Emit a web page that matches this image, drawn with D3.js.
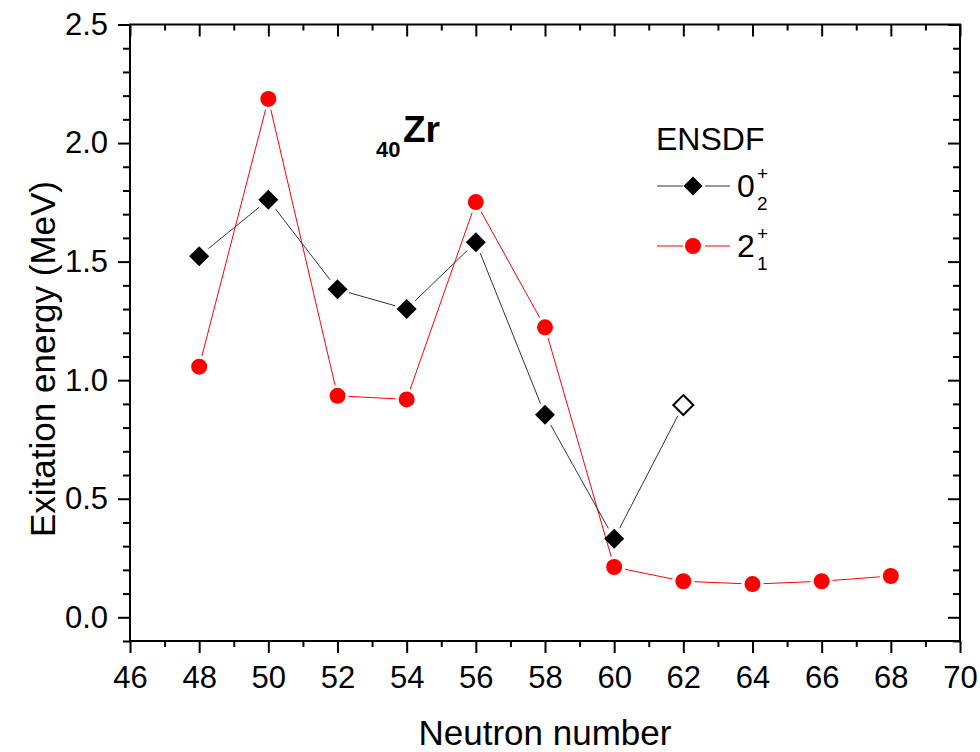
<!DOCTYPE html>
<html>
<head>
<meta charset="utf-8">
<script src="https://cdn.jsdelivr.net/npm/d3@7"></script>
<style>
  body { margin: 0; background: #fff; }
  svg { display: block; font-family: "Liberation Sans", Arial, sans-serif; }
</style>
</head>
<body>
<div id="chart"></div>
<script>
// neutron numbers and ENSDF energies (MeV)
const n02 = [48, 50, 52, 54, 56, 58, 60, 62];
const e02 = [1.523, 1.761, 1.383, 1.300, 1.582, 0.854, 0.331, 0.895];
const open02 = [false, false, false, false, false, false, false, true]; // 62 is tentative
const n21 = [48, 50, 52, 54, 56, 58, 60, 62, 64, 66, 68];
const e21 = [1.057, 2.186, 0.934, 0.919, 1.751, 1.223, 0.212, 0.152, 0.140, 0.152, 0.174];
const xMajor = [46, 48, 50, 52, 54, 56, 58, 60, 62, 64, 66, 68, 70];
const xMinor = [47, 49, 51, 53, 55, 57, 59, 61, 63, 65, 67, 69];
const yMajor = [0.0, 0.5, 1.0, 1.5, 2.0, 2.5];
const yMinor = [-0.1, 0.1, 0.2, 0.3, 0.4, 0.6, 0.7, 0.8, 0.9, 1.1, 1.2, 1.3, 1.4,
  1.6, 1.7, 1.8, 1.9, 2.1, 2.2, 2.3, 2.4];

const W = 980, H = 752;
const plotL = 130, plotR = 960, plotT = 24.5, plotB = 641;

const svg = d3.select("#chart").append("svg")
  .attr("width", W).attr("height", H);

const x = d3.scaleLinear().domain([46, 70]).range([plotL, plotR]);
const y = d3.scaleLinear().domain([-0.1, 2.5]).range([plotB, plotT]);

// axes: outer ticks on left/bottom, inner ticks on top/right
function styleAxis(g) {
  g.select(".domain").remove();
  g.selectAll(".tick line").attr("stroke", "#000").attr("stroke-width", 2);
  g.attr("font-family", null).attr("font-size", 31);
  g.selectAll(".tick text").attr("fill", "#000");
}
svg.append("g").attr("transform", `translate(0,${plotB})`)
  .call(d3.axisBottom(x).tickValues(xMajor).tickFormat(d3.format("d")).tickSize(12).tickPadding(13))
  .call(styleAxis);
svg.append("g").attr("transform", `translate(0,${plotB})`)
  .call(d3.axisBottom(x).tickValues(xMinor).tickFormat("").tickSize(6))
  .call(styleAxis);
svg.append("g").attr("transform", `translate(0,${plotT})`)
  .call(d3.axisTop(x).tickValues(xMajor).tickFormat("").tickSize(-12))
  .call(styleAxis);
svg.append("g").attr("transform", `translate(0,${plotT})`)
  .call(d3.axisTop(x).tickValues(xMinor).tickFormat("").tickSize(-6))
  .call(styleAxis);
svg.append("g").attr("transform", `translate(${plotL},0)`)
  .call(d3.axisLeft(y).tickValues(yMajor).tickFormat(d3.format(".1f")).tickSize(12).tickPadding(10))
  .call(styleAxis);
svg.append("g").attr("transform", `translate(${plotL},0)`)
  .call(d3.axisLeft(y).tickValues(yMinor).tickFormat("").tickSize(7))
  .call(styleAxis);
svg.append("g").attr("transform", `translate(${plotR},0)`)
  .call(d3.axisRight(y).tickValues(yMajor).tickFormat("").tickSize(-12))
  .call(styleAxis);
svg.append("g").attr("transform", `translate(${plotR},0)`)
  .call(d3.axisRight(y).tickValues(yMinor).tickFormat("").tickSize(-7))
  .call(styleAxis);

// frame
svg.append("rect")
  .attr("x", plotL).attr("y", plotT)
  .attr("width", plotR - plotL).attr("height", plotB - plotT)
  .attr("fill", "none").attr("stroke", "#000").attr("stroke-width", 2);

// axis titles
svg.append("text")
  .attr("x", (plotL + plotR) / 2).attr("y", 745)
  .attr("text-anchor", "middle").attr("font-size", 35)
  .text("Neutron number");
svg.append("text")
  .attr("transform", "translate(55,359) rotate(-90)")
  .attr("text-anchor", "middle").attr("font-size", 35)
  .text("Exitation energy (MeV)");

const diamond = "M0,-10L10,0L0,10L-10,0Z";

// connecting lines stop short of the markers (Origin style)
function drawSegments(xs, ys, color, gap) {
  for (let i = 0; i < xs.length - 1; i++) {
    const x0 = x(xs[i]), y0 = y(ys[i]), x1 = x(xs[i + 1]), y1 = y(ys[i + 1]);
    const len = Math.hypot(x1 - x0, y1 - y0);
    if (len <= 2 * gap) continue;
    const ux = (x1 - x0) / len, uy = (y1 - y0) / len;
    svg.append("line")
      .attr("x1", x0 + ux * gap).attr("y1", y0 + uy * gap)
      .attr("x2", x1 - ux * gap).attr("y2", y1 - uy * gap)
      .attr("stroke", color).attr("stroke-width", 1);
  }
}
drawSegments(n21, e21, "#ff0000", 11);
drawSegments(n02, e02, "#333", 12);

// red circles
svg.append("g").selectAll("circle")
  .data(n21.map((n, i) => [n, e21[i]]))
  .join("circle")
  .attr("cx", d => x(d[0])).attr("cy", d => y(d[1]))
  .attr("r", 8).attr("fill", "#ff0000");

// black diamonds
svg.append("g").selectAll("path")
  .data(n02.map((n, i) => [n, e02[i], open02[i]]))
  .join("path")
  .attr("d", diamond)
  .attr("transform", d => `translate(${x(d[0])},${y(d[1])})`)
  .attr("fill", d => d[2] ? "#fff" : "#000")
  .attr("stroke", "#000")
  .attr("stroke-width", d => d[2] ? 2 : 0);

// 40Zr label
const zr = svg.append("text").attr("font-weight", "bold");
zr.append("tspan").attr("x", 376).attr("y", 157).attr("font-size", 22).text("40");
zr.append("tspan").attr("x", 403).attr("y", 142).attr("font-size", 37).text("Zr");

// legend
const lg = svg.append("g");
lg.append("text").attr("x", 656).attr("y", 150).attr("font-size", 32).text("ENSDF");

const rows = [
  { y: 186, color: "#333", base: "0", sub: "2" },
  { y: 246, color: "#ff0000", base: "2", sub: "1" }
];
rows.forEach((r, i) => {
  lg.append("line").attr("x1", 657).attr("x2", 683).attr("y1", r.y).attr("y2", r.y)
    .attr("stroke", r.color).attr("stroke-width", 1);
  lg.append("line").attr("x1", 705).attr("x2", 730).attr("y1", r.y).attr("y2", r.y)
    .attr("stroke", r.color).attr("stroke-width", 1);
  if (i === 0) {
    lg.append("path").attr("d", diamond)
      .attr("transform", `translate(693,${r.y}) scale(0.95)`).attr("fill", "#000");
  } else {
    lg.append("circle").attr("cx", 693).attr("cy", r.y).attr("r", 8).attr("fill", "#ff0000");
  }
  lg.append("text").attr("x", 737).attr("y", r.y + 11).attr("font-size", 32).text(r.base);
  lg.append("text").attr("x", 757).attr("y", r.y - 6).attr("font-size", 19).text("+");
  lg.append("text").attr("x", 757).attr("y", r.y + 24).attr("font-size", 19).text(r.sub);
});
</script>
</body>
</html>
